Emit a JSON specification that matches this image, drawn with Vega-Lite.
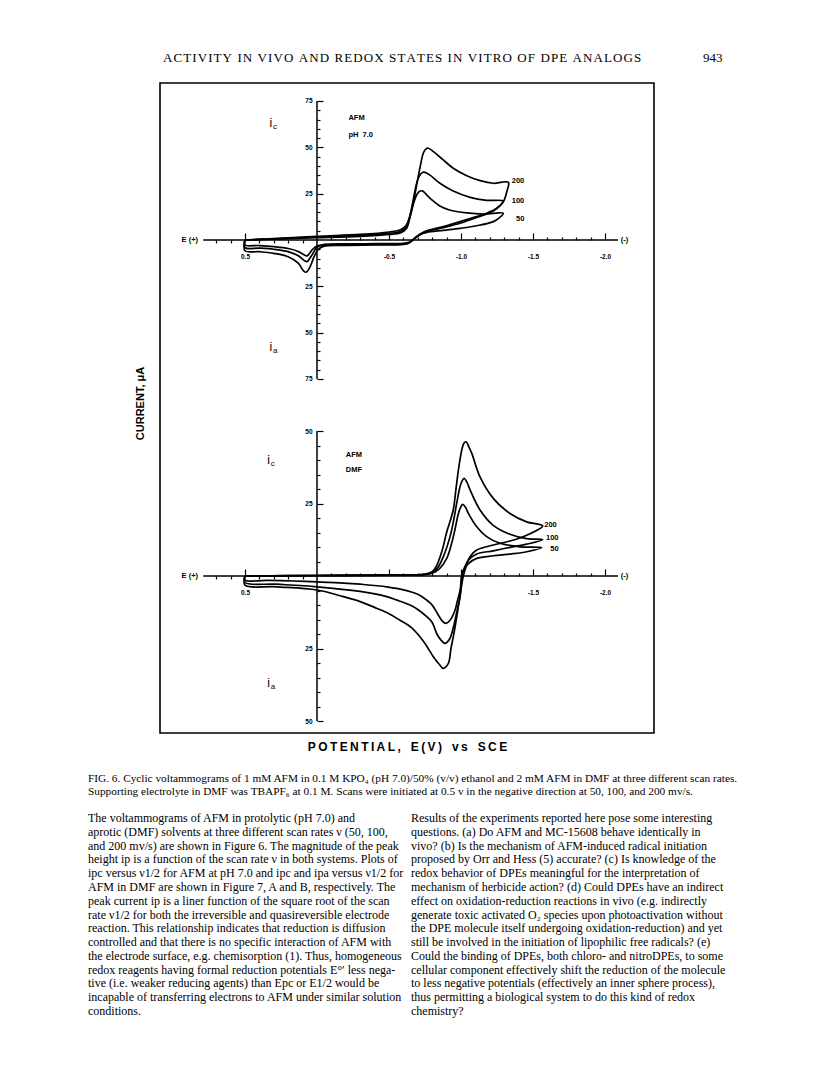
{
  "$schema": "https://vega.github.io/schema/vega-lite/v6.json",
  "background": "white",
  "padding": {"left": 88, "top": 45, "right": 8, "bottom": 8},
  "bounds": "flush",
  "spacing": 12,
  "config": {
    "view": {"stroke": null},
    "axis": {"grid": false, "domain": false, "labelFont": "Liberation Sans", "labelFontWeight": "bold", "labelFontSize": 6.5, "labelColor": "black", "tickColor": "black", "tickWidth": 1.2, "titleColor": "black"}
  },
  "datasets": {
    "top": [
      {"r":50,"k":0,"E":0.5,"I":0},{"r":50,"k":1,"E":0.3,"I":0.5},{"r":50,"k":2,"E":0.0,"I":1.2},{"r":50,"k":3,"E":-0.3,"I":2.0},{"r":50,"k":4,"E":-0.5,"I":3.0},{"r":50,"k":5,"E":-0.58,"I":3.8},{"r":50,"k":6,"E":-0.62,"I":6.0},{"r":50,"k":7,"E":-0.645,"I":12},{"r":50,"k":8,"E":-0.668,"I":19},{"r":50,"k":9,"E":-0.69,"I":24},{"r":50,"k":10,"E":-0.71,"I":26.2},{"r":50,"k":11,"E":-0.731,"I":26.5},{"r":50,"k":12,"E":-0.76,"I":24.5},{"r":50,"k":13,"E":-0.8,"I":21.5},{"r":50,"k":14,"E":-0.85,"I":18.5},{"r":50,"k":15,"E":-0.92,"I":16.2},{"r":50,"k":16,"E":-1.04,"I":14.6},{"r":50,"k":17,"E":-1.16,"I":14.0},{"r":50,"k":18,"E":-1.294,"I":14.4},{"r":50,"k":19,"E":-1.27,"I":12.2},{"r":50,"k":20,"E":-1.224,"I":9.9},{"r":50,"k":21,"E":-1.109,"I":7.7},{"r":50,"k":22,"E":-0.993,"I":6.3},{"r":50,"k":23,"E":-0.877,"I":5.2},{"r":50,"k":24,"E":-0.762,"I":4.1},{"r":50,"k":25,"E":-0.72,"I":3.0},{"r":50,"k":26,"E":-0.69,"I":1.5},{"r":50,"k":27,"E":-0.665,"I":0},{"r":50,"k":28,"E":-0.64,"I":-1.2},{"r":50,"k":29,"E":-0.6,"I":-1.8},{"r":50,"k":30,"E":-0.4,"I":-2.0},{"r":50,"k":31,"E":-0.2,"I":-2.1},{"r":50,"k":32,"E":-0.05,"I":-2.4},{"r":50,"k":33,"E":0.0,"I":-3.2},{"r":50,"k":34,"E":0.03,"I":-5.0},{"r":50,"k":35,"E":0.055,"I":-7.5},{"r":50,"k":36,"E":0.07,"I":-8.6},{"r":50,"k":37,"E":0.09,"I":-8.0},{"r":50,"k":38,"E":0.13,"I":-6.2},{"r":50,"k":39,"E":0.2,"I":-4.6},{"r":50,"k":40,"E":0.3,"I":-3.6},{"r":50,"k":41,"E":0.4,"I":-3.0},{"r":50,"k":42,"E":0.5,"I":-2.7},{"r":50,"k":43,"E":0.5,"I":0},
      {"r":100,"k":0,"E":0.5,"I":0},{"r":100,"k":1,"E":0.3,"I":0.6},{"r":100,"k":2,"E":0.0,"I":1.6},{"r":100,"k":3,"E":-0.3,"I":2.5},{"r":100,"k":4,"E":-0.5,"I":3.6},{"r":100,"k":5,"E":-0.58,"I":4.5},{"r":100,"k":6,"E":-0.62,"I":7},{"r":100,"k":7,"E":-0.645,"I":13},{"r":100,"k":8,"E":-0.669,"I":22},{"r":100,"k":9,"E":-0.69,"I":30},{"r":100,"k":10,"E":-0.71,"I":34.5},{"r":100,"k":11,"E":-0.735,"I":36.5},{"r":100,"k":12,"E":-0.75,"I":36.5},{"r":100,"k":13,"E":-0.785,"I":35.0},{"r":100,"k":14,"E":-0.854,"I":30.6},{"r":100,"k":15,"E":-0.946,"I":26.4},{"r":100,"k":16,"E":-1.063,"I":23.0},{"r":100,"k":17,"E":-1.178,"I":21.4},{"r":100,"k":18,"E":-1.294,"I":21.0},{"r":100,"k":19,"E":-1.271,"I":18.5},{"r":100,"k":20,"E":-1.224,"I":15.7},{"r":100,"k":21,"E":-1.109,"I":12.1},{"r":100,"k":22,"E":-0.993,"I":9.0},{"r":100,"k":23,"E":-0.877,"I":6.7},{"r":100,"k":24,"E":-0.762,"I":4.5},{"r":100,"k":25,"E":-0.72,"I":3.2},{"r":100,"k":26,"E":-0.69,"I":1.6},{"r":100,"k":27,"E":-0.665,"I":0},{"r":100,"k":28,"E":-0.64,"I":-1.4},{"r":100,"k":29,"E":-0.6,"I":-2.1},{"r":100,"k":30,"E":-0.4,"I":-2.4},{"r":100,"k":31,"E":-0.2,"I":-2.5},{"r":100,"k":32,"E":-0.05,"I":-2.8},{"r":100,"k":33,"E":0.0,"I":-4.0},{"r":100,"k":34,"E":0.03,"I":-7.5},{"r":100,"k":35,"E":0.055,"I":-10.5},{"r":100,"k":36,"E":0.07,"I":-11.7},{"r":100,"k":37,"E":0.09,"I":-11.0},{"r":100,"k":38,"E":0.13,"I":-8.5},{"r":100,"k":39,"E":0.2,"I":-6.3},{"r":100,"k":40,"E":0.3,"I":-5.0},{"r":100,"k":41,"E":0.4,"I":-4.4},{"r":100,"k":42,"E":0.5,"I":-4.1},{"r":100,"k":43,"E":0.5,"I":0},
      {"r":200,"k":0,"E":0.5,"I":0},{"r":200,"k":1,"E":0.3,"I":0.7},{"r":200,"k":2,"E":0.0,"I":2.0},{"r":200,"k":3,"E":-0.3,"I":3.0},{"r":200,"k":4,"E":-0.5,"I":4.3},{"r":200,"k":5,"E":-0.58,"I":5.5},{"r":200,"k":6,"E":-0.62,"I":8},{"r":200,"k":7,"E":-0.646,"I":13},{"r":200,"k":8,"E":-0.668,"I":20},{"r":200,"k":9,"E":-0.681,"I":25},{"r":200,"k":10,"E":-0.7,"I":33},{"r":200,"k":11,"E":-0.715,"I":39},{"r":200,"k":12,"E":-0.738,"I":46.8},{"r":200,"k":13,"E":-0.755,"I":49},{"r":200,"k":14,"E":-0.773,"I":49.5},{"r":200,"k":15,"E":-0.808,"I":47.7},{"r":200,"k":16,"E":-0.877,"I":43.2},{"r":200,"k":17,"E":-0.946,"I":38.7},{"r":200,"k":18,"E":-1.04,"I":34.7},{"r":200,"k":19,"E":-1.133,"I":32.0},{"r":200,"k":20,"E":-1.224,"I":30.6},{"r":200,"k":21,"E":-1.329,"I":31.1},{"r":200,"k":22,"E":-1.318,"I":26.1},{"r":200,"k":23,"E":-1.294,"I":20.7},{"r":200,"k":24,"E":-1.248,"I":17.1},{"r":200,"k":25,"E":-1.178,"I":14.4},{"r":200,"k":26,"E":-1.109,"I":12.6},{"r":200,"k":27,"E":-0.993,"I":9.9},{"r":200,"k":28,"E":-0.877,"I":7.2},{"r":200,"k":29,"E":-0.762,"I":4.9},{"r":200,"k":30,"E":-0.72,"I":3.4},{"r":200,"k":31,"E":-0.69,"I":1.8},{"r":200,"k":32,"E":-0.665,"I":0},{"r":200,"k":33,"E":-0.64,"I":-1.6},{"r":200,"k":34,"E":-0.6,"I":-2.4},{"r":200,"k":35,"E":-0.4,"I":-2.7},{"r":200,"k":36,"E":-0.2,"I":-2.9},{"r":200,"k":37,"E":-0.05,"I":-3.3},{"r":200,"k":38,"E":-0.01,"I":-5.0},{"r":200,"k":39,"E":0.02,"I":-9.0},{"r":200,"k":40,"E":0.045,"I":-14},{"r":200,"k":41,"E":0.075,"I":-17.4},{"r":200,"k":42,"E":0.095,"I":-16.5},{"r":200,"k":43,"E":0.13,"I":-12.5},{"r":200,"k":44,"E":0.2,"I":-9.0},{"r":200,"k":45,"E":0.3,"I":-7.2},{"r":200,"k":46,"E":0.4,"I":-6.3},{"r":200,"k":47,"E":0.5,"I":-5.8},{"r":200,"k":48,"E":0.5,"I":0}
    ],
    "bot": [
      {"r":50,"k":0,"E":0.5,"I":0},{"r":50,"k":1,"E":0.0,"I":0.2},{"r":50,"k":2,"E":-0.5,"I":0.3},{"r":50,"k":3,"E":-0.75,"I":0.5},{"r":50,"k":4,"E":-0.8,"I":1.0},{"r":50,"k":5,"E":-0.85,"I":2.5},{"r":50,"k":6,"E":-0.9,"I":6.0},{"r":50,"k":7,"E":-0.935,"I":11.3},{"r":50,"k":8,"E":-0.96,"I":16.5},{"r":50,"k":9,"E":-0.982,"I":21.6},{"r":50,"k":10,"E":-1.0,"I":24.0},{"r":50,"k":11,"E":-1.012,"I":24.7},{"r":50,"k":12,"E":-1.03,"I":23.8},{"r":50,"k":13,"E":-1.051,"I":21.6},{"r":50,"k":14,"E":-1.109,"I":17.0},{"r":50,"k":15,"E":-1.178,"I":13.6},{"r":50,"k":16,"E":-1.271,"I":11.3},{"r":50,"k":17,"E":-1.41,"I":10.1},{"r":50,"k":18,"E":-1.56,"I":9.8},{"r":50,"k":19,"E":-1.456,"I":8.4},{"r":50,"k":20,"E":-1.34,"I":7.6},{"r":50,"k":21,"E":-1.224,"I":7.0},{"r":50,"k":22,"E":-1.109,"I":6.1},{"r":50,"k":23,"E":-1.051,"I":4.3},{"r":50,"k":24,"E":-1.016,"I":2.0},{"r":50,"k":25,"E":-1.005,"I":0},{"r":50,"k":26,"E":-0.994,"I":-4.8},{"r":50,"k":27,"E":-0.975,"I":-8.5},{"r":50,"k":28,"E":-0.959,"I":-11.7},{"r":50,"k":29,"E":-0.924,"I":-15.2},{"r":50,"k":30,"E":-0.896,"I":-16.3},{"r":50,"k":31,"E":-0.87,"I":-15.5},{"r":50,"k":32,"E":-0.842,"I":-13.4},{"r":50,"k":33,"E":-0.8,"I":-10.0},{"r":50,"k":34,"E":-0.762,"I":-8.3},{"r":50,"k":35,"E":-0.7,"I":-6.3},{"r":50,"k":36,"E":-0.623,"I":-5.0},{"r":50,"k":37,"E":-0.484,"I":-3.7},{"r":50,"k":38,"E":-0.3,"I":-2.8},{"r":50,"k":39,"E":-0.183,"I":-2.4},{"r":50,"k":40,"E":0.0,"I":-2.0},{"r":50,"k":41,"E":0.164,"I":-1.7},{"r":50,"k":42,"E":0.35,"I":-1.5},{"r":50,"k":43,"E":0.5,"I":-1.4},{"r":50,"k":44,"E":0.5,"I":0},
      {"r":100,"k":0,"E":0.5,"I":0},{"r":100,"k":1,"E":0.0,"I":0.2},{"r":100,"k":2,"E":-0.5,"I":0.3},{"r":100,"k":3,"E":-0.75,"I":0.6},{"r":100,"k":4,"E":-0.8,"I":1.2},{"r":100,"k":5,"E":-0.84,"I":3},{"r":100,"k":6,"E":-0.88,"I":7},{"r":100,"k":7,"E":-0.924,"I":13.6},{"r":100,"k":8,"E":-0.95,"I":19.5},{"r":100,"k":9,"E":-0.97,"I":25.1},{"r":100,"k":10,"E":-1.0,"I":31.9},{"r":100,"k":11,"E":-1.021,"I":33.7},{"r":100,"k":12,"E":-1.04,"I":32.5},{"r":100,"k":13,"E":-1.063,"I":29.7},{"r":100,"k":14,"E":-1.132,"I":22.8},{"r":100,"k":15,"E":-1.224,"I":17.5},{"r":100,"k":16,"E":-1.34,"I":14.4},{"r":100,"k":17,"E":-1.456,"I":12.9},{"r":100,"k":18,"E":-1.567,"I":12.6},{"r":100,"k":19,"E":-1.456,"I":11.0},{"r":100,"k":20,"E":-1.34,"I":9.9},{"r":100,"k":21,"E":-1.224,"I":8.7},{"r":100,"k":22,"E":-1.109,"I":7.6},{"r":100,"k":23,"E":-1.051,"I":5.5},{"r":100,"k":24,"E":-1.021,"I":2.5},{"r":100,"k":25,"E":-1.005,"I":0},{"r":100,"k":26,"E":-0.994,"I":-7.1},{"r":100,"k":27,"E":-0.97,"I":-12.5},{"r":100,"k":28,"E":-0.948,"I":-17.5},{"r":100,"k":29,"E":-0.92,"I":-21.8},{"r":100,"k":30,"E":-0.889,"I":-23.2},{"r":100,"k":31,"E":-0.86,"I":-22.0},{"r":100,"k":32,"E":-0.831,"I":-19.8},{"r":100,"k":33,"E":-0.8,"I":-16.0},{"r":100,"k":34,"E":-0.762,"I":-14.0},{"r":100,"k":35,"E":-0.7,"I":-11.5},{"r":100,"k":36,"E":-0.646,"I":-10.0},{"r":100,"k":37,"E":-0.55,"I":-8.2},{"r":100,"k":38,"E":-0.484,"I":-7.1},{"r":100,"k":39,"E":-0.299,"I":-5.3},{"r":100,"k":40,"E":0.0,"I":-3.7},{"r":100,"k":41,"E":0.28,"I":-2.8},{"r":100,"k":42,"E":0.5,"I":-2.2},{"r":100,"k":43,"E":0.5,"I":0},
      {"r":200,"k":0,"E":0.5,"I":0},{"r":200,"k":1,"E":0.0,"I":0.2},{"r":200,"k":2,"E":-0.5,"I":0.35},{"r":200,"k":3,"E":-0.75,"I":0.7},{"r":200,"k":4,"E":-0.8,"I":1.5},{"r":200,"k":5,"E":-0.83,"I":3.5},{"r":200,"k":6,"E":-0.87,"I":9},{"r":200,"k":7,"E":-0.9,"I":15},{"r":200,"k":8,"E":-0.946,"I":22.8},{"r":200,"k":9,"E":-0.965,"I":30},{"r":200,"k":10,"E":-0.982,"I":36.6},{"r":200,"k":11,"E":-1.005,"I":43.4},{"r":200,"k":12,"E":-1.02,"I":45.8},{"r":200,"k":13,"E":-1.035,"I":46.3},{"r":200,"k":14,"E":-1.055,"I":44.5},{"r":200,"k":15,"E":-1.075,"I":42.3},{"r":200,"k":16,"E":-1.132,"I":34.2},{"r":200,"k":17,"E":-1.224,"I":26.8},{"r":200,"k":18,"E":-1.34,"I":21.6},{"r":200,"k":19,"E":-1.456,"I":18.7},{"r":200,"k":20,"E":-1.567,"I":17.3},{"r":200,"k":21,"E":-1.456,"I":14.1},{"r":200,"k":22,"E":-1.34,"I":12.1},{"r":200,"k":23,"E":-1.224,"I":10.7},{"r":200,"k":24,"E":-1.109,"I":9.0},{"r":200,"k":25,"E":-1.062,"I":6.7},{"r":200,"k":26,"E":-1.035,"I":3.2},{"r":200,"k":27,"E":-1.016,"I":0},{"r":200,"k":28,"E":-1.005,"I":-3},{"r":200,"k":29,"E":-0.98,"I":-11},{"r":200,"k":30,"E":-0.95,"I":-20},{"r":200,"k":31,"E":-0.93,"I":-25},{"r":200,"k":32,"E":-0.912,"I":-30.1},{"r":200,"k":33,"E":-0.877,"I":-31.8},{"r":200,"k":34,"E":-0.85,"I":-30.5},{"r":200,"k":35,"E":-0.808,"I":-27.8},{"r":200,"k":36,"E":-0.76,"I":-24},{"r":200,"k":37,"E":-0.715,"I":-20.9},{"r":200,"k":38,"E":-0.65,"I":-17.5},{"r":200,"k":39,"E":-0.576,"I":-15.2},{"r":200,"k":40,"E":-0.5,"I":-13.0},{"r":200,"k":41,"E":-0.414,"I":-11.1},{"r":200,"k":42,"E":-0.3,"I":-8.8},{"r":200,"k":43,"E":-0.183,"I":-7.1},{"r":200,"k":44,"E":0.0,"I":-4.8},{"r":200,"k":45,"E":0.28,"I":-3.7},{"r":200,"k":46,"E":0.5,"I":-3.1},{"r":200,"k":47,"E":0.5,"I":0}
    ],
    "tlab": [
      {"k":"lab","t":"200","E":-1.352,"I":32.0},
      {"k":"lab","t":"100","E":-1.352,"I":21.2},
      {"k":"lab","t":"50","E":-1.382,"I":11.3},
      {"k":"lab","t":"AFM","E":-0.218,"I":65.7},
      {"k":"lab","t":"pH\u00a0\u00a07.0","E":-0.218,"I":56.7},
      {"k":"lab","t":"E (+)","E":0.94,"I":0},
      {"k":"lab","t":"(-)","E":-2.11,"I":0},
      {"k":"i","t":"i","s":"c","E":0.33,"I":63},
      {"k":"i","t":"i","s":"a","E":0.33,"I":-57.6}
    ],
    "blab": [
      {"k":"lab","t":"200","E":-1.578,"I":17.6},
      {"k":"lab","t":"100","E":-1.59,"I":13.0},
      {"k":"lab","t":"50","E":-1.62,"I":9.5},
      {"k":"lab","t":"AFM","E":-0.2,"I":41.7},
      {"k":"lab","t":"DMF","E":-0.2,"I":36.6},
      {"k":"lab","t":"E (+)","E":0.94,"I":0},
      {"k":"lab","t":"(-)","E":-2.11,"I":0},
      {"k":"i","t":"i","s":"c","E":0.345,"I":40},
      {"k":"i","t":"i","s":"a","E":0.345,"I":-37}
    ]
  },
  "vconcat": [
    {
      "width": 570, "height": 26,
      "data": {"values": [
        {"col": "title", "text": "A\u200aC\u200aT\u200aI\u200aV\u200aI\u200aT\u200aY\u200a \u200aI\u200aN\u200a \u200aV\u200aI\u200aV\u200aO\u200a \u200aA\u200aN\u200aD\u200a \u200aR\u200aE\u200aD\u200aO\u200aX\u200a \u200aS\u200aT\u200aA\u200aT\u200aE\u200aS\u200a \u200aI\u200aN\u200a \u200aV\u200aI\u200aT\u200aR\u200aO\u200a \u200aO\u200aF\u200a \u200aD\u200aP\u200aE\u200a \u200aA\u200aN\u200aA\u200aL\u200aO\u200aG\u200aS"},
        {"col": "page", "text": "943"}
      ]},
      "mark": {"type": "text", "align": "left", "baseline": "middle", "font": "Liberation Serif", "fontSize": 13, "color": "black"},
      "encoding": {
        "x": {"field": "col", "type": "nominal", "scale": {"type": "point", "domain": ["title", "page"], "range": [3, 543], "padding": 0}, "axis": null},
        "text": {"field": "text"}
      }
    },
    {
      "width": 494, "height": 650,
      "view": {"stroke": "black", "strokeWidth": 1.6},
      "resolve": {"scale": {"x": "independent", "y": "independent"}, "axis": {"x": "independent", "y": "independent"}},
      "layer": [
        {
          "data": {"name": "top"},
          "mark": {"type": "line", "color": "black", "strokeWidth": 1.7, "interpolate": "catmull-rom"},
          "encoding": {
            "x": {"field": "E", "type": "quantitative", "scale": {"domain": [1.09, -2.34], "nice": false, "zero": false},
                  "axis": {"orient": "bottom", "offset": -493, "values": [0.5, -0.5, -1, -1.5, -2], "tickSize": -7, "labelPadding": 20, "title": null,
                           "labelExpr": "(datum.value < 0 ? '-' : '') + format(abs(datum.value), '.1f')"}},
            "y": {"field": "I", "type": "quantitative", "scale": {"domain": [-266, 84.7], "nice": false, "zero": false},
                  "axis": {"orient": "left", "offset": -157, "values": [-75, -50, -25, 25, 50, 75], "tickSize": -6, "labelPadding": 11, "title": null,
                           "labelExpr": "format(abs(datum.value), 'd')"}},
            "detail": {"field": "r", "type": "nominal"},
            "order": {"field": "k", "type": "quantitative"}
          }
        },
        {
          "data": {"values": [{}]},
          "mark": {"type": "rule", "color": "black", "strokeWidth": 1.5},
          "encoding": {
            "x": {"datum": 0, "type": "quantitative", "scale": {"domain": [1.09, -2.34], "nice": false, "zero": false},
                  "axis": {"orient": "bottom", "offset": -493, "values": [-0.1, -0.2, -0.3, -0.4, -0.6, -0.7, -0.8, -0.9, -1.1, -1.2, -1.3, -1.4, -1.6, -1.7, -1.8, -1.9], "tickSize": -3, "labels": false, "title": null}},
            "y": {"datum": -75, "type": "quantitative", "scale": {"domain": [-266, 84.7], "nice": false, "zero": false},
                  "axis": {"orient": "left", "offset": -157, "values": [-70, -65, -60, -55, -45, -40, -35, -30, -20, -15, -10, -5, 5, 10, 15, 20, 30, 35, 40, 45, 55, 60, 65, 70], "tickSize": -3, "labels": false, "title": null}},
            "y2": {"datum": 75}
          }
        },
        {
          "data": {"values": [{}]},
          "mark": {"type": "rule", "color": "black", "strokeWidth": 1.5},
          "encoding": {
            "x": {"datum": 0.79, "type": "quantitative", "scale": {"domain": [1.09, -2.34], "nice": false, "zero": false},
                  "axis": {"orient": "bottom", "offset": -493, "values": [0.7, 0.6, 0.4, 0.3, 0.2, 0.1], "tickSize": 3, "labels": false, "title": null}},
            "x2": {"datum": -2.09},
            "y": {"datum": 0, "type": "quantitative", "scale": {"domain": [-266, 84.7], "nice": false, "zero": false},
                  "axis": {"orient": "left", "offset": 0, "ticks": false, "labels": false, "title": "CURRENT, μA", "titleFont": "Liberation Sans", "titleFontWeight": "bold", "titleFontSize": 11, "titlePadding": 15, "titleY": 320}}
          }
        },
        {
          "data": {"name": "tlab"},
          "transform": [{"filter": "datum.k == 'lab'"}],
          "mark": {"type": "text", "align": "left", "baseline": "middle", "font": "Liberation Sans", "fontWeight": "bold", "fontSize": 7.5, "color": "black"},
          "encoding": {
            "x": {"field": "E", "type": "quantitative", "scale": {"domain": [1.09, -2.34], "nice": false, "zero": false},
                  "axis": {"orient": "bottom", "offset": 0, "ticks": false, "labels": false, "title": "P\u2009O\u2009T\u2009E\u2009N\u2009T\u2009I\u2009A\u2009L\u2009,\u00a0\u00a0\u00a0E\u2009(\u2009V\u2009)\u00a0\u00a0\u00a0v\u2009s\u00a0\u00a0\u00a0S\u2009C\u2009E", "titleFont": "Liberation Sans", "titleFontWeight": "bold", "titleFontSize": 12, "titlePadding": 8, "titleX": 247, "titleAlign": "center"}},
            "y": {"field": "I", "type": "quantitative", "scale": {"domain": [-266, 84.7], "nice": false, "zero": false}, "axis": null},
            "text": {"field": "t"}
          }
        },
        {
          "data": {"name": "tlab"},
          "transform": [{"filter": "datum.k == 'i'"}],
          "mark": {"type": "text", "align": "left", "baseline": "middle", "font": "Liberation Sans", "fontSize": 12, "color": "black"},
          "encoding": {
            "x": {"field": "E", "type": "quantitative", "scale": {"domain": [1.09, -2.34], "nice": false, "zero": false}, "axis": null},
            "y": {"field": "I", "type": "quantitative", "scale": {"domain": [-266, 84.7], "nice": false, "zero": false}, "axis": null},
            "text": {"field": "t"}
          }
        },
        {
          "data": {"name": "tlab"},
          "transform": [{"filter": "datum.k == 'i'"}],
          "mark": {"type": "text", "align": "left", "baseline": "middle", "font": "Liberation Sans", "fontSize": 8, "dx": 3.5, "dy": 4, "color": "black"},
          "encoding": {
            "x": {"field": "E", "type": "quantitative", "scale": {"domain": [1.09, -2.34], "nice": false, "zero": false}, "axis": null},
            "y": {"field": "I", "type": "quantitative", "scale": {"domain": [-266, 84.7], "nice": false, "zero": false}, "axis": null},
            "text": {"field": "s"}
          }
        },
        {
          "data": {"name": "bot"},
          "mark": {"type": "line", "color": "black", "strokeWidth": 1.7, "interpolate": "catmull-rom"},
          "encoding": {
            "x": {"field": "E", "type": "quantitative", "scale": {"domain": [1.09, -2.34], "nice": false, "zero": false},
                  "axis": {"orient": "bottom", "offset": -157, "values": [0.5, -0.5, -1, -1.5, -2], "tickSize": -7, "labelPadding": 20, "title": null,
                           "labelExpr": "datum.value == -0.5 || datum.value == -1 ? '' : (datum.value < 0 ? '-' : '') + format(abs(datum.value), '.1f')"}},
            "y": {"field": "I", "type": "quantitative", "scale": {"domain": [-54.1, 170], "nice": false, "zero": false},
                  "axis": {"orient": "left", "offset": -157, "values": [-50, -25, 25, 50], "tickSize": -6, "labelPadding": 11, "title": null,
                           "labelExpr": "format(abs(datum.value), 'd')"}},
            "detail": {"field": "r", "type": "nominal"},
            "order": {"field": "k", "type": "quantitative"}
          }
        },
        {
          "data": {"values": [{}]},
          "mark": {"type": "rule", "color": "black", "strokeWidth": 1.5},
          "encoding": {
            "x": {"datum": 0, "type": "quantitative", "scale": {"domain": [1.09, -2.34], "nice": false, "zero": false},
                  "axis": {"orient": "bottom", "offset": -157, "values": [-0.1, -0.2, -0.3, -0.4, -0.6, -0.7, -0.8, -0.9, -1.1, -1.2, -1.3, -1.4, -1.6, -1.7, -1.8, -1.9], "tickSize": -3, "labels": false, "title": null}},
            "y": {"datum": -50, "type": "quantitative", "scale": {"domain": [-54.1, 170], "nice": false, "zero": false},
                  "axis": {"orient": "left", "offset": -157, "values": [-45, -40, -35, -30, -20, -15, -10, -5, 5, 10, 15, 20, 30, 35, 40, 45], "tickSize": -3, "labels": false, "title": null}},
            "y2": {"datum": 50}
          }
        },
        {
          "data": {"values": [{}]},
          "mark": {"type": "rule", "color": "black", "strokeWidth": 1.5},
          "encoding": {
            "x": {"datum": 0.79, "type": "quantitative", "scale": {"domain": [1.09, -2.34], "nice": false, "zero": false},
                  "axis": {"orient": "bottom", "offset": -157, "values": [0.7, 0.6, 0.4, 0.3, 0.2, 0.1], "tickSize": 3, "labels": false, "title": null}},
            "x2": {"datum": -2.09},
            "y": {"datum": 0, "type": "quantitative", "scale": {"domain": [-54.1, 170], "nice": false, "zero": false}, "axis": null}
          }
        },
        {
          "data": {"name": "blab"},
          "transform": [{"filter": "datum.k == 'lab'"}],
          "mark": {"type": "text", "align": "left", "baseline": "middle", "font": "Liberation Sans", "fontWeight": "bold", "fontSize": 7.5, "color": "black"},
          "encoding": {
            "x": {"field": "E", "type": "quantitative", "scale": {"domain": [1.09, -2.34], "nice": false, "zero": false}, "axis": null},
            "y": {"field": "I", "type": "quantitative", "scale": {"domain": [-54.1, 170], "nice": false, "zero": false}, "axis": null},
            "text": {"field": "t"}
          }
        },
        {
          "data": {"name": "blab"},
          "transform": [{"filter": "datum.k == 'i'"}],
          "mark": {"type": "text", "align": "left", "baseline": "middle", "font": "Liberation Sans", "fontSize": 12, "color": "black"},
          "encoding": {
            "x": {"field": "E", "type": "quantitative", "scale": {"domain": [1.09, -2.34], "nice": false, "zero": false}, "axis": null},
            "y": {"field": "I", "type": "quantitative", "scale": {"domain": [-54.1, 170], "nice": false, "zero": false}, "axis": null},
            "text": {"field": "t"}
          }
        },
        {
          "data": {"name": "blab"},
          "transform": [{"filter": "datum.k == 'i'"}],
          "mark": {"type": "text", "align": "left", "baseline": "middle", "font": "Liberation Sans", "fontSize": 8, "dx": 3.5, "dy": 4, "color": "black"},
          "encoding": {
            "x": {"field": "E", "type": "quantitative", "scale": {"domain": [1.09, -2.34], "nice": false, "zero": false}, "axis": null},
            "y": {"field": "I", "type": "quantitative", "scale": {"domain": [-54.1, 170], "nice": false, "zero": false}, "axis": null},
            "text": {"field": "s"}
          }
        }
      ]
    },
    {
      "width": 494, "height": 48,
      "data": {"values": [
        {"col": "left", "line": 1, "text": "\u00a0\u00a0\u00a0FIG. 6. Cyclic voltammograms of 1 mM AFM in 0.1 M KPO₄ (pH 7.0)/50% (v/v) ethanol and 2 mM AFM in DMF at three different scan rates."},
        {"col": "left", "line": 2, "text": "Supporting electrolyte in DMF was TBAPF₆ at 0.1 M. Scans were initiated at 0.5 v in the negative direction at 50, 100, and 200 mv/s."}
      ]},
      "mark": {"type": "text", "align": "left", "baseline": "middle", "font": "Liberation Serif", "fontSize": 11.3, "color": "black"},
      "encoding": {
        "x": {"field": "col", "type": "nominal", "scale": {"type": "point", "domain": ["left", "right"], "range": [-72, 251], "padding": 0}, "axis": null},
        "y": {"field": "line", "type": "quantitative", "scale": {"domain": [1, 2], "range": [34, 47]}, "axis": null},
        "text": {"field": "text"}
      }
    },
    {
      "width": 494, "height": 215,
      "data": {"values": [
        {"col": "left", "line": 1, "text": "\u00a0\u00a0\u00a0\u00a0The voltammograms of AFM in protolytic (pH 7.0) and"},
        {"col": "left", "line": 2, "text": "aprotic (DMF) solvents at three different scan rates ν (50, 100,"},
        {"col": "left", "line": 3, "text": "and 200 mv/s) are shown in Figure 6. The magnitude of the peak"},
        {"col": "left", "line": 4, "text": "height ip is a function of the scan rate ν in both systems. Plots of"},
        {"col": "left", "line": 5, "text": "ipc versus ν1/2 for AFM at pH 7.0 and ipc and ipa versus ν1/2 for"},
        {"col": "left", "line": 6, "text": "AFM in DMF are shown in Figure 7, A and B, respectively. The"},
        {"col": "left", "line": 7, "text": "peak current ip is a liner function of the square root of the scan"},
        {"col": "left", "line": 8, "text": "rate ν1/2 for both the irreversible and quasireversible electrode"},
        {"col": "left", "line": 9, "text": "reaction. This relationship indicates that reduction is diffusion"},
        {"col": "left", "line": 10, "text": "controlled and that there is no specific interaction of AFM with"},
        {"col": "left", "line": 11, "text": "the electrode surface, e.g. chemisorption (1). Thus, homogeneous"},
        {"col": "left", "line": 12, "text": "redox reagents having formal reduction potentials E°′ less nega-"},
        {"col": "left", "line": 13, "text": "tive (i.e. weaker reducing agents) than Epc or E1/2 would be"},
        {"col": "left", "line": 14, "text": "incapable of transferring electrons to AFM under similar solution"},
        {"col": "left", "line": 15, "text": "conditions."},
        {"col": "right", "line": 1, "text": "\u00a0\u00a0\u00a0\u00a0Results of the experiments reported here pose some interesting"},
        {"col": "right", "line": 2, "text": "questions. (a) Do AFM and MC-15608 behave identically in"},
        {"col": "right", "line": 3, "text": "vivo? (b) Is the mechanism of AFM-induced radical initiation"},
        {"col": "right", "line": 4, "text": "proposed by Orr and Hess (5) accurate? (c) Is knowledge of the"},
        {"col": "right", "line": 5, "text": "redox behavior of DPEs meaningful for the interpretation of"},
        {"col": "right", "line": 6, "text": "mechanism of herbicide action? (d) Could DPEs have an indirect"},
        {"col": "right", "line": 7, "text": "effect on oxidation-reduction reactions in vivo (e.g. indirectly"},
        {"col": "right", "line": 8, "text": "generate toxic activated O₂ species upon photoactivation without"},
        {"col": "right", "line": 9, "text": "the DPE molecule itself undergoing oxidation-reduction) and yet"},
        {"col": "right", "line": 10, "text": "still be involved in the initiation of lipophilic free radicals? (e)"},
        {"col": "right", "line": 11, "text": "Could the binding of DPEs, both chloro- and nitroDPEs, to some"},
        {"col": "right", "line": 12, "text": "cellular component effectively shift the reduction of the molecule"},
        {"col": "right", "line": 13, "text": "to less negative potentials (effectively an inner sphere process),"},
        {"col": "right", "line": 14, "text": "thus permitting a biological system to do this kind of redox"},
        {"col": "right", "line": 15, "text": "chemistry?"}
      ]},
      "mark": {"type": "text", "align": "left", "baseline": "middle", "font": "Liberation Serif", "fontSize": 12, "color": "black"},
      "encoding": {
        "x": {"field": "col", "type": "nominal", "scale": {"type": "point", "domain": ["left", "right"], "range": [-72, 251], "padding": 0}, "axis": null},
        "y": {"field": "line", "type": "quantitative", "scale": {"domain": [1, 15], "range": [13, 206]}, "axis": null},
        "text": {"field": "text"}
      }
    }
  ]
}
